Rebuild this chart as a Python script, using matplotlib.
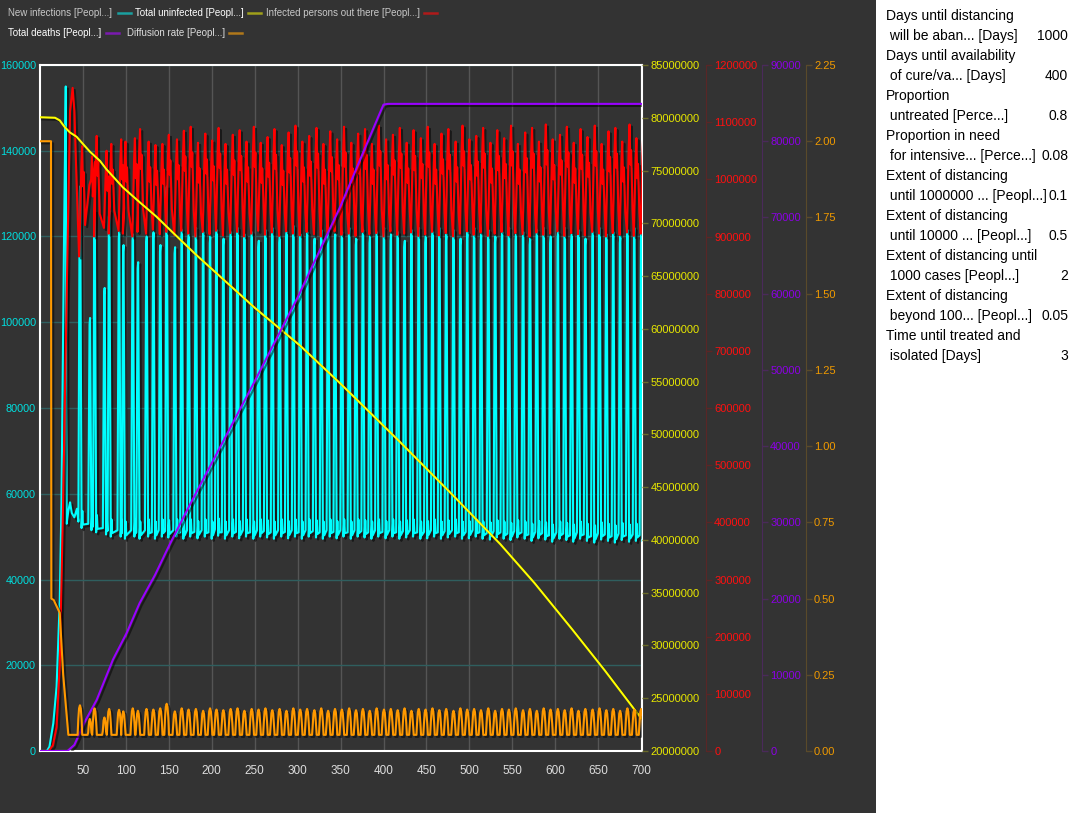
import matplotlib
matplotlib.use("Agg")
import matplotlib.pyplot as plt
from matplotlib.lines import Line2D
import matplotlib.patheffects as pe

plt.rcParams['font.family'] = ['Liberation Sans', 'DejaVu Sans']

# ---- data ----
# cycle peak days (new infections spikes), shared by the oscillating series
cycle_day = [46.5, 58, 63.5, 75, 80.5, 92, 97, 108, 114, 124, 132, 140, 147.5, 157,
             165, 173, 181.5, 190, 198, 205.5, 213.5, 222, 230, 238, 246.5, 254.5,
             262.5, 270.5, 279, 287, 295, 303, 311, 319.5, 327.5, 335.5, 343.5, 351.5,
             360, 368, 376, 384, 392, 400.5, 408.5, 416.5, 424.5, 432.5, 441, 449,
             457, 465, 473, 481.5, 489.5, 497.5, 505.5, 513.5, 522, 530, 538, 546,
             554, 562.5, 570.5, 578.5, 586.5, 594.5, 603, 611, 619, 627, 635, 643.5,
             651.5, 659.5, 667.5, 675.5, 684, 692, 700]

# new infections: early rise, then per-cycle peak / low
cyan_early_day = [0, 8, 11, 15.5, 19.3, 23, 25, 28, 30, 31, 33, 35, 37, 40, 43]
cyan_early_val = [0, 0, 1000, 6500, 15000, 35000, 58000, 120000, 155000, 53000,
                  56000, 58000, 55500, 54500, 56500]
cyan_peak = [131700, 101000, 126000, 108000, 126000, 121000, 118000, 120500, 114000,
             120000, 121000, 118000, 131700, 117500, 121500, 120500, 122000, 121000,
             120000, 121500, 119500, 121000, 122000, 120500, 121000, 119000, 121500,
             122000, 120000, 121000, 122500, 120500, 121000, 119500, 121500, 122000,
             120500, 121000, 122000, 119500, 121500, 120000, 121000, 122000, 120500,
             121000, 119000, 121500, 122000, 120000, 121000, 122000, 120500, 121500,
             119500, 121000, 122000, 120500, 121500, 120000, 121000, 122000, 120500,
             121000, 119500, 121500, 122000, 120000, 121000, 122000, 120500, 121500,
             119500, 121000, 122000, 120500, 121000, 120000, 121500, 122000, 120500]
cyan_low = [52000, 51500, 51000, 50500, 50000, 50000, 49500, 50000, 49500, 50000,
            49500, 50000, 49800, 50000, 49500, 50000, 49600, 50000, 49500, 50200,
            49500, 50000, 49600, 50000, 49500, 50000, 49800, 49500, 50000, 49600,
            50000, 49500, 50000, 49800, 49500, 50000, 49600, 50000, 49500, 50000,
            49800, 49500, 50000, 49600, 50000, 49500, 49800, 50000, 49500, 49600,
            50000, 49500, 49800, 50000, 49500, 49600, 50000, 49500, 49300, 49800,
            49500, 49200, 49800, 49500, 49000, 49600, 49300, 48800, 49500, 49200,
            48800, 49500, 49000, 48600, 49300, 49000, 48600, 49200, 48800, 49000,
            48800]

# infected persons out there
red_early_day = [0, 10, 15, 19.3, 23, 27, 31, 35, 38, 40, 42.5, 45.5]
red_early_val = [0, 0, 10000, 42000, 150000, 440000, 790000, 1120000, 1160000,
                 1120000, 1000000, 865000]
red_peak = [1058000, 1040000, 1076000, 1050000, 1062000, 1070000, 1066000, 1072000,
            1088000, 1066000, 1060000, 1062000, 1078000, 1070000, 1085000, 1092000,
            1064000, 1080000, 1068000, 1090000, 1062000, 1078000, 1086000, 1066000,
            1092000, 1064000, 1074000, 1088000, 1060000, 1082000, 1094000, 1066000,
            1076000, 1090000, 1062000, 1084000, 1070000, 1092000, 1064000, 1080000,
            1088000, 1062000, 1094000, 1070000, 1078000, 1090000, 1064000, 1086000,
            1072000, 1092000, 1062000, 1080000, 1088000, 1066000, 1094000, 1070000,
            1076000, 1090000, 1064000, 1086000, 1072000, 1094000, 1062000, 1082000,
            1090000, 1066000, 1096000, 1070000, 1078000, 1092000, 1064000, 1088000,
            1074000, 1094000, 1062000, 1084000, 1090000, 1066000, 1096000, 1072000,
            1080000]
red_low = [880000, 990000, 900000, 915000, 905000, 910000, 905000, 900000, 908000,
           905000, 912000, 904000, 908000, 902000, 910000, 905000, 900000, 908000,
           904000, 910000, 902000, 906000, 908000, 900000, 905000, 910000, 903000,
           907000, 901000, 909000, 905000, 902000, 908000, 904000, 900000, 906000,
           909000, 903000, 905000, 901000, 908000, 904000, 906000, 900000, 909000,
           903000, 905000, 907000, 901000, 904000, 908000, 902000, 906000, 900000,
           905000, 909000, 903000, 907000, 901000, 905000, 908000, 902000, 906000,
           904000, 900000, 907000, 903000, 905000, 909000, 901000, 906000, 904000,
           902000, 908000, 905000, 900000, 906000, 903000, 907000, 901000, 905000]

# diffusion rate
orange_early_day = [0, 12.8, 13.2, 16, 23, 27, 33, 43.5]
orange_early_val = [2.0, 2.0, 0.50, 0.495, 0.453, 0.25, 0.053, 0.053]
orange_peak = [0.150, 0.105, 0.140, 0.110, 0.138, 0.135, 0.130, 0.140, 0.132, 0.138,
               0.136, 0.140, 0.155, 0.130, 0.140, 0.136, 0.138, 0.132, 0.140, 0.136,
               0.134, 0.138, 0.140, 0.132, 0.138, 0.136, 0.140, 0.134, 0.138, 0.132,
               0.140, 0.136, 0.138, 0.134, 0.140, 0.132, 0.138, 0.136, 0.140, 0.134,
               0.138, 0.132, 0.140, 0.136, 0.138, 0.134, 0.140, 0.132, 0.138, 0.136,
               0.140, 0.134, 0.138, 0.132, 0.140, 0.136, 0.138, 0.134, 0.140, 0.132,
               0.138, 0.136, 0.140, 0.134, 0.138, 0.132, 0.140, 0.136, 0.138, 0.134,
               0.140, 0.132, 0.138, 0.136, 0.140, 0.134, 0.138, 0.132, 0.140, 0.136,
               0.138]

# total uninfected
yellow_day = [0, 17.5, 23, 29, 35, 42.6, 50.3, 58, 70, 77.6, 96.6, 116, 136, 155, 182,
              250, 303, 350, 419, 480, 536, 576, 620, 658, 700]
yellow_val = [80.05e6, 80.0e6, 79.75e6, 79.1e6, 78.6e6, 78.2e6, 77.5e6, 76.8e6, 75.9e6,
              75.1e6, 73.4e6, 72.0e6, 70.6e6, 69.1e6, 67.0e6, 62.0e6, 58.4e6, 54.8e6,
              49.3e6, 44.3e6, 39.6e6, 35.9e6, 31.5e6, 27.6e6, 23.1e6]

# total deaths
purple_day = [0, 32, 40, 46.5, 52, 66, 85, 101, 116, 134, 151, 174.5, 250, 300, 350,
              395, 400, 405, 700]
purple_val = [0, 0, 800, 2400, 3800, 6700, 12000, 15500, 19400, 23100, 27100, 32300,
              48500, 59500, 71500, 83500, 84800, 84900, 84900]

x_ticks = [50, 100, 150, 200, 250, 300, 350, 400, 450, 500, 550, 600, 650, 700]

params = [
    ("Days until distancing", ""),
    (" will be aban... [Days]", "1000"),
    ("Days until availability", ""),
    (" of cure/va... [Days]", "400"),
    ("Proportion", ""),
    (" untreated [Perce...]", "0.8"),
    ("Proportion in need", ""),
    (" for intensive... [Perce...]", "0.08"),
    ("Extent of distancing", ""),
    (" until 1000000 ... [Peopl...]", "0.1"),
    ("Extent of distancing", ""),
    (" until 10000 ... [Peopl...]", "0.5"),
    ("Extent of distancing until", ""),
    (" 1000 cases [Peopl...]", "2"),
    ("Extent of distancing", ""),
    (" beyond 100... [Peopl...]", "0.05"),
    ("Time until treated and", ""),
    (" isolated [Days]", "3"),
]

# ---- build line vertices from cycle readings ----
def build_cyan():
    xs, ys = list(cyan_early_day), list(cyan_early_val)
    for p, v, lo in zip(cycle_day, cyan_peak, cyan_low):
        xs += [p - 1.8, p - 0.3, p + 0.3, p + 1.9, p + 2.8, p + 3.5]
        ys += [lo + 1500, v - 1500, v, lo, lo + 4000, lo + 800]
    return xs, ys

def build_red():
    xs, ys = list(red_early_day), list(red_early_val)
    for p, v, lo in zip(cycle_day, red_peak, red_low):
        xs += [p - 0.5, p + 1.5, p + 2.5, p + 3.5, p + 4.3, p + 6.0]
        ys += [lo, v - 40000, v, v - 70000, v - 45000, lo + 40000]
    return xs, ys

def build_orange():
    xs, ys = list(orange_early_day), list(orange_early_val)
    for p, v in zip(cycle_day, orange_peak):
        xs += [p - 2.7, p - 1.9, p - 1.0, p, p + 1.0, p + 1.9, p + 2.7]
        ys += [0.053, v - 0.045, v - 0.01, v, v - 0.01, v - 0.045, 0.053]
    return xs, ys

BG = "#333333"
fig = plt.figure(figsize=(10.76, 8.13), dpi=100, facecolor=BG)
W, H = 1076, 813
ax = fig.add_axes([40 / W, 1 - 751 / H, 602 / W, 686 / H])
ax.set_facecolor(BG)

shadow = [pe.SimpleLineShadow(offset=(1.5, -1.5), shadow_color="black", alpha=0.5),
          pe.Normal()]

cx, cy = build_cyan()
ax.plot(cx, cy, color="#00ffff", lw=1.5, path_effects=shadow, zorder=3)
ax.set_xlim(0, 701)
ax.set_ylim(0, 160000)
ax.set_yticks(range(0, 160001, 20000))
ax.set_xticks(x_ticks)
ax.tick_params(axis="y", colors="#00e0e0", length=0, labelsize=7.8, pad=3)
ax.tick_params(axis="x", colors="#dddddd", length=0, labelsize=8.5, pad=10)
ax.grid(axis="y", color="#2f5f5f", lw=1)
ax.grid(axis="x", color="#555555", lw=1)
ax.set_axisbelow(True)
for s in ax.spines.values():
    s.set_color("white")
    s.set_linewidth(1.5)

def twin(pos, spine_color, label_color, lim, ticks, fmt):
    t = ax.twinx()
    t.set_ylim(*lim)
    t.set_yticks(ticks)
    t.set_yticklabels([fmt(v) for v in ticks], color=label_color)
    for n in ("left", "top", "bottom"):
        t.spines[n].set_visible(False)
    t.spines["right"].set_position(("axes", pos))
    t.spines["right"].set_color(spine_color)
    t.tick_params(axis="y", colors=spine_color, labelcolor=label_color,
                  length=4, width=1, labelsize=8, pad=2)
    if pos == 1.0:
        t.spines["right"].set_visible(False)
    return t

ax_red = twin(1.106, "#5a2626", "#ff1010", (0, 1200000),
              list(range(0, 1200001, 100000)), lambda v: str(int(v)))
rx, ry = build_red()
ax_red.plot(rx, ry, color="#ff0000", lw=1.5, path_effects=shadow)

ax_yel = twin(1.0, "#6a6a2a", "#e8e800", (20e6, 85e6),
              list(range(20000000, 85000001, 5000000)), lambda v: str(int(v)))
ax_yel.plot(yellow_day, yellow_val, color="#ffff00", lw=1.5, path_effects=shadow)

ax_pur = twin(1.199, "#4a2a5a", "#8c00e6", (0, 90000),
              list(range(0, 90001, 10000)), lambda v: str(int(v)))
ax_pur.plot(purple_day, purple_val, color="#9900ff", lw=1.5, path_effects=shadow)

ax_or = twin(1.272, "#5a4a2a", "#f09a00", (0, 2.25),
             [0, 0.25, 0.5, 0.75, 1.0, 1.25, 1.5, 1.75, 2.0, 2.25], lambda v: f"{v:.2f}")
ox, oy = build_orange()
ax_or.plot(ox, oy, color="#ff9900", lw=1.5, path_effects=shadow)

# legend drawn as figure text + line samples (x of text, x of sample, row y)
legend_items = [
    (8, 118, 13, "New infections [Peopl...]", "#c8c8c8", "#1aa0a0"),
    (135, 248, 13, "Total uninfected [Peopl...]", "#ffffff", "#a0a01a"),
    (266, 424, 13, "Infected persons out there [Peopl...]", "#c8c8c8", "#b01a1a"),
    (8, 106, 33, "Total deaths [Peopl...]", "#ffffff", "#7a1ab0"),
    (127, 229, 33, "Diffusion rate [Peopl...]", "#dddddd", "#b0781a"),
]
for x0, xs0, y0, label, tc, lc in legend_items:
    fig.text(x0 / W, 1 - y0 / H, label, color=tc, fontsize=7.0, va="center", ha="left")
    fig.add_artist(Line2D([xs0 / W, (xs0 + 13) / W], [1 - y0 / H, 1 - y0 / H],
                          color=lc, lw=1.8, transform=fig.transFigure))

# parameter panel on the right
fig.patches.append(plt.Rectangle((876 / W, 0), 200 / W, 1, transform=fig.transFigure,
                                 facecolor="white", edgecolor="none"))
for i, (lab, val) in enumerate(params):
    yy = 1 - (16 + i * 20) / H
    fig.text(886 / W, yy, lab, color="black", fontsize=10, va="center", ha="left")
    if val:
        fig.text(1068 / W, yy, val, color="black", fontsize=10, va="center", ha="right")

fig.savefig("out.png", dpi=100, facecolor=BG)
